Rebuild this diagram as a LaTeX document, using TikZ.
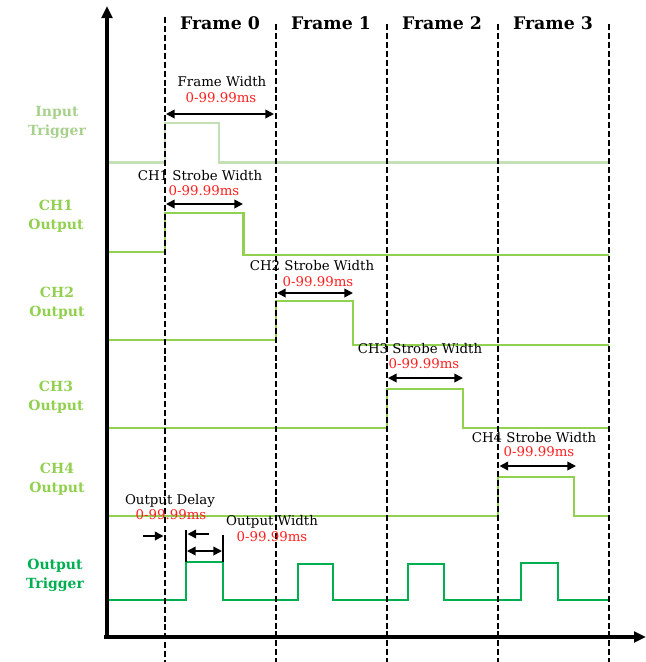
\documentclass[tikz,border=0pt]{standalone}
\usepackage{fontspec}
\setmainfont{DejaVu Serif}
\usepackage{xcolor}
\usetikzlibrary{arrows.meta}
\definecolor{intrig}{HTML}{C5E0B4}
\definecolor{intriglbl}{HTML}{A9D18E}
\definecolor{chgreen}{HTML}{92D050}
\definecolor{outgreen}{HTML}{00B050}
\definecolor{rangered}{HTML}{FF2020}
\tikzset{
  axis/.style={draw=black, line width=2.3pt},
  frameline/.style={draw=black, line width=1.4pt, dash pattern=on 4.5pt off 2.2pt},
  insig/.style={draw=intrig, line width=1.6pt},
  chsig/.style={draw=chgreen, line width=1.6pt},
  outsig/.style={draw=outgreen, line width=1.6pt},
  dimarrow/.style={draw=black, line width=1.3pt, {Triangle[length=6.5pt,width=6.5pt]}-{Triangle[length=6.5pt,width=6.5pt]}},
  onearrow/.style={draw=black, line width=1.3pt, -{Triangle[length=6.5pt,width=6.5pt]}},
  tick/.style={draw=black, line width=1.3pt},
  framelbl/.style={font=\bfseries\fontsize{13}{15}\selectfont},
  siglbl/.style={font=\bfseries\fontsize{10.5}{14.2}\selectfont, align=center},
  dimlbl/.style={font=\fontsize{10}{12}\selectfont, inner sep=0pt},
  rangelbl/.style={text=rangered, font=\fontsize{10}{12}\selectfont, inner sep=0pt}
}

\begin{document}
\begin{tikzpicture}[x=0.75pt, y=-0.75pt]
  \useasboundingbox (0,0) rectangle (646,662);

  % signals
  \draw[insig] (107,162.5) -- (165,162.5) -- (165,123) -- (219,123) -- (219,162.5) -- (609,162.5);
  \draw[chsig] (107,252) -- (165,252) -- (165,213) -- (243.5,213) -- (243.5,255) -- (609,255);
  \draw[chsig] (107,340) -- (276,340) -- (276,301) -- (353,301) -- (353,345) -- (609,345);
  \draw[chsig] (107,428) -- (387,428) -- (387,389) -- (463,389) -- (463,428) -- (609,428);
  \draw[chsig] (107,516) -- (498,516) -- (498,477) -- (574,477) -- (574,516) -- (609,516);
  \draw[outsig] (107,600) -- (186,600) -- (186,562) -- (223,562) -- (223,600)
    -- (298,600) -- (298,564) -- (333,564) -- (333,600)
    -- (408,600) -- (408,564) -- (444,564) -- (444,600)
    -- (521,600) -- (521,563) -- (558,563) -- (558,600) -- (609,600);

  % frame borders
  \draw[frameline] (165,17) -- (165,662);
  \draw[frameline] (275.7,24) -- (275.7,662);
  \draw[frameline] (386.7,24) -- (386.7,662);
  \draw[frameline] (498.3,24) -- (498.3,662);
  \draw[frameline] (609,24) -- (609,662);

  % axes
  \draw[axis, -{Triangle[length=9pt,width=8pt]}] (107,637) -- (107,6);
  \draw[axis, -{Triangle[length=9pt,width=8pt]}] (104,637) -- (646,637);

  \node[framelbl] (f0) at (220,23) {Frame 0};
  \node[framelbl] (f1) at (331,23) {Frame 1};
  \node[framelbl] (f2) at (442,23) {Frame 2};
  \node[framelbl] (f3) at (553,23) {Frame 3};

  \node[siglbl, text=intriglbl] (lin) at (57,122.5) {Input\\Trigger};
  \node[siglbl, text=chgreen] (lch1) at (56,216.5) {CH1\\Output};
  \node[siglbl, text=chgreen] (lch2) at (57,303.5) {CH2\\Output};
  \node[siglbl, text=chgreen] (lch3) at (56,397.5) {CH3\\Output};
  \node[siglbl, text=chgreen] (lch4) at (57,479.5) {CH4\\Output};
  \node[siglbl, text=outgreen] (lout) at (55,575) {Output\\Trigger};

  % widths
  \node[dimlbl] (fw) at (222,82) {Frame Width};
  \node[rangelbl] (fwr) at (221,98) {0-99.99ms};
  \draw[dimarrow] (166,114) -- (274,114);

  \node[dimlbl] (s1) at (200,176) {CH1 Strobe Width};
  \node[rangelbl] (s1r) at (204,191) {0-99.99ms};
  \draw[dimarrow] (166,204) -- (243,204);

  \node[dimlbl] (s2) at (312,266) {CH2 Strobe Width};
  \node[rangelbl] (s2r) at (318,282) {0-99.99ms};
  \draw[dimarrow] (277,293) -- (353,293);

  \node[dimlbl] (s3) at (420,349) {CH3 Strobe Width};
  \node[rangelbl] (s3r) at (424,364) {0-99.99ms};
  \draw[dimarrow] (388,378) -- (463,378);

  \node[dimlbl] (s4) at (534,437.5) {CH4 Strobe Width};
  \node[rangelbl] (s4r) at (539,452) {0-99.99ms};
  \draw[dimarrow] (499.5,466) -- (576,466);

  % delay and output width
  \node[dimlbl] (od) at (170,501) {Output Delay};
  \node[rangelbl] (odr) at (171,515) {0-99.99ms};
  \draw[onearrow] (143,536) -- (163.5,536);
  \draw[onearrow] (209,534) -- (187.5,534);
  \draw[tick] (186,530) -- (186,562);
  \draw[tick] (223,535) -- (223,562);
  \draw[dimarrow] (187,551) -- (222,551);

  \node[dimlbl] (ow) at (272,522) {Output Width};
  \node[rangelbl] (owr) at (272,537) {0-99.99ms};
\end{tikzpicture}
\end{document}
